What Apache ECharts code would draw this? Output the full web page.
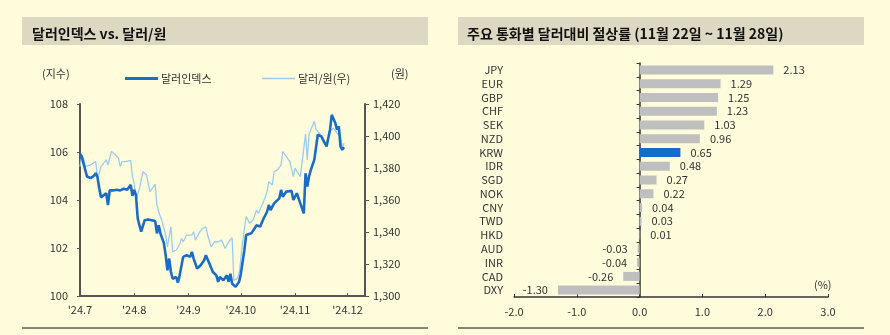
<!DOCTYPE html>
<html><head><meta charset="utf-8">
<script src="https://cdn.jsdelivr.net/npm/echarts@6/dist/echarts.min.js"></script>
<style>html,body{margin:0;padding:0;background:#FFFCDB;}#c{width:890px;height:335px;}</style>
</head><body><div id="c"></div>
<script>
// ---- Left chart data ----
const dxyDates = ['07-01','07-02','07-03','07-05','07-07','07-09','07-10','07-11','07-12','07-13','07-14','07-16','07-17','07-18','07-20','07-22','07-24','07-26','07-28','07-30','07-31','08-01','08-02','08-03','08-04','08-05','08-07','08-09','08-11','08-13','08-14','08-15','08-16','08-18','08-19','08-20','08-21','08-22','08-23','08-25','08-26','08-27','08-29','08-31','09-02','09-03','09-04','09-06','09-08','09-10','09-11','09-13','09-15','09-17','09-18','09-19','09-21','09-23','09-24','09-25','09-26','09-28','09-30','10-01','10-03','10-04','10-07','10-08','10-10','10-12','10-14','10-16','10-17','10-18','10-20','10-23','10-24','10-25','10-27','10-30','10-31','11-02','11-04','11-06','11-07','11-08','11-09','11-10','11-12','11-14','11-16','11-18','11-19','11-21','11-22','11-24','11-25','11-26','11-27','11-28','11-29'];
const dxyValues = [105.92,105.81,105.74,104.98,104.91,105.01,105.12,104.95,104.49,104.11,104.14,104.28,103.79,104.40,104.40,104.43,104.40,104.47,104.43,104.63,104.17,104.42,104.21,103.23,102.95,102.68,103.16,103.19,103.16,103.12,102.61,102.95,102.61,102.19,101.70,101.07,101.56,101.00,100.72,100.79,100.56,100.86,101.63,101.70,101.63,101.84,101.56,101.14,101.28,101.49,101.70,101.35,101.00,100.86,100.59,100.79,100.66,100.86,100.59,100.93,100.52,100.38,100.59,100.93,101.91,102.54,102.61,102.54,102.95,102.89,103.23,103.51,103.79,103.58,103.86,104.07,104.42,104.14,104.35,104.38,104.00,104.28,103.86,103.44,105.11,104.56,104.98,105.25,105.67,106.72,106.65,106.37,106.23,106.93,107.55,107.21,106.93,107.07,106.23,106.09,106.20];
const krwDates = ['07-01','07-02','07-03','07-04','07-07','07-10','07-11','07-12','07-13','07-16','07-17','07-19','07-21','07-23','07-24','07-25','07-27','07-30','07-31','08-01','08-02','08-04','08-06','08-07','08-08','08-10','08-12','08-13','08-14','08-15','08-17','08-19','08-20','08-22','08-23','08-25','08-27','08-28','08-29','08-31','09-03','09-04','09-05','09-07','09-09','09-11','09-12','09-14','09-16','09-18','09-20','09-22','09-24','09-26','09-27','09-29','09-30','10-01','10-02','10-04','10-06','10-08','10-10','10-11','10-14','10-16','10-17','10-19','10-20','10-22','10-24','10-25','10-27','10-29','10-31','11-01','11-04','11-05','11-07','11-08','11-09','11-10','11-12','11-13','11-15','11-17','11-19','11-21','11-23','11-25','11-27','11-28','11-29'];
const krwValues = [1380.9,1387.6,1386.1,1380.9,1382.0,1384.0,1373.6,1376.7,1380.9,1385.1,1382.0,1390.3,1388.6,1386.1,1380.9,1384.0,1384.0,1384.7,1374.6,1370.5,1360.0,1367.3,1377.8,1376.7,1375.7,1365.2,1368.4,1369.8,1356.9,1352.7,1346.4,1338.1,1330.7,1343.3,1327.6,1328.6,1332.2,1336.0,1333.9,1338.1,1338.1,1340.1,1334.9,1339.1,1342.2,1343.3,1338.1,1330.7,1333.9,1333.9,1334.9,1329.7,1333.9,1336.4,1309.8,1310.9,1314.0,1323.4,1333.9,1349.6,1345.4,1347.5,1353.7,1351.6,1359.0,1365.2,1371.5,1369.4,1377.8,1378.8,1382.0,1390.3,1387.2,1384.0,1374.6,1379.9,1374.6,1375.7,1401.2,1385.1,1400.8,1403.9,1409.1,1403.9,1401.8,1397.6,1393.5,1402.9,1405.0,1401.8,1399.7,1392.4,1395.5];
const leftAxisTicks = [100, 102, 104, 106, 108];
const rightAxisTicks = [1300, 1320, 1340, 1360, 1380, 1400, 1420];

// ---- Right chart data ----
const currencies = ['JPY','EUR','GBP','CHF','SEK','NZD','KRW','IDR','SGD','NOK','CNY','TWD','HKD','AUD','INR','CAD','DXY'];
const changes = [2.13,1.29,1.25,1.23,1.03,0.96,0.65,0.48,0.27,0.22,0.04,0.03,0.01,-0.03,-0.04,-0.26,-1.30];
const pctTicks = [-2, -1, 0, 1, 2, 3];

// calendar-day category axis from Jul 1 to Dec 11, 2024
const days = [];
{
  const d = new Date(Date.UTC(2024, 6, 1));
  const end = new Date(Date.UTC(2024, 11, 11));
  while (d <= end) {
    const m = String(d.getUTCMonth() + 1).padStart(2, '0');
    const dd = String(d.getUTCDate()).padStart(2, '0');
    days.push(m + '-' + dd);
    d.setUTCDate(d.getUTCDate() + 1);
  }
}
function toSeries(dates, vals) {
  const map = {};
  dates.forEach((k, i) => map[k] = vals[i]);
  return days.map(k => (k in map ? map[k] : null));
}
const isMonthStart = (i, v) => v.slice(3) === '01';

const FONT = '"Noto Sans CJK KR", "Noto Sans", sans-serif';
const TXT = '#333';
const AX = '#555';

const chart = echarts.init(document.getElementById('c'));
chart.setOption({
  backgroundColor: '#FFFCDB',
  textStyle: { fontFamily: FONT },
  animation: false,
  graphic: [
    { type: 'rect', shape: { x: 22, y: 17, width: 406, height: 28 }, style: { fill: '#DDD8C2' }, z: -1 },
    { type: 'rect', shape: { x: 458, y: 17, width: 406, height: 28 }, style: { fill: '#DDD8C2' }, z: -1 },
    { type: 'line', shape: { x1: 22, y1: 328, x2: 428, y2: 328 }, style: { stroke: '#111', lineWidth: 1 } },
    { type: 'line', shape: { x1: 458, y1: 328, x2: 864, y2: 328 }, style: { stroke: '#111', lineWidth: 1 } },
    { type: 'text', left: 42, top: 68, style: { text: '(지수)', fill: TXT, font: '11px ' + FONT } },
    { type: 'text', left: 391, top: 68, style: { text: '(원)', fill: TXT, font: '11px ' + FONT } },
    { type: 'text', left: 814, top: 279, style: { text: '(%)', fill: TXT, font: '11px ' + FONT } }
  ],
  title: [
    { text: '달러인덱스 vs. 달러/원', left: 27, top: 22, textStyle: { fontSize: 14, fontWeight: 'bold', color: '#111', fontFamily: FONT } },
    { text: '주요 통화별 달러대비 절상률 (11월 22일 ~ 11월 28일)', left: 462, top: 22, textStyle: { fontSize: 14, fontWeight: 'bold', color: '#111', fontFamily: FONT } }
  ],
  legend: [
    { left: 120, top: 68, itemWidth: 33, itemHeight: 3, icon: 'rect', itemGap: 4, data: [{ name: '달러인덱스', itemStyle: { color: '#1A6CC6' } }], textStyle: { fontSize: 11, color: TXT, padding: [0, 0, 0, -2] } },
    { left: 257, top: 68, itemWidth: 33, itemHeight: 1.5, icon: 'rect', itemGap: 4, data: [{ name: '달러/원(우)', itemStyle: { color: '#9CCBF2' } }], textStyle: { fontSize: 11, color: TXT, padding: [0, 0, 0, -2] } }
  ],
  grid: [
    { left: 80, right: 525, top: 104, bottom: 39 },
    { left: 514, right: 62, top: 63, bottom: 38 }
  ],
  xAxis: [
    {
      type: 'category', gridIndex: 0, data: days, boundaryGap: false,
      axisLine: { lineStyle: { color: AX, width: 2 } },
      axisTick: { inside: true, length: 3, interval: isMonthStart, lineStyle: { color: AX } },
      axisLabel: { interval: isMonthStart, margin: 8, fontSize: 11, color: TXT, formatter: v => "'24." + parseInt(v.slice(0, 2), 10) },
      splitLine: { show: false }
    },
    {
      type: 'value', gridIndex: 1, min: pctTicks[0], max: pctTicks[pctTicks.length - 1], interval: 1,
      axisLine: { show: true, lineStyle: { color: '#333', width: 1.5 } },
      axisTick: { show: true, inside: true, length: 3, lineStyle: { color: '#333' } },
      axisLabel: { margin: 9, fontSize: 11, color: TXT, formatter: v => v.toFixed(1) },
      splitLine: { show: false }
    }
  ],
  yAxis: [
    {
      type: 'value', gridIndex: 0, min: leftAxisTicks[0], max: leftAxisTicks[leftAxisTicks.length - 1], interval: 2,
      axisLine: { show: true, lineStyle: { color: AX, width: 2 } },
      axisTick: { show: true, length: 3, lineStyle: { color: AX } },
      axisLabel: { margin: 12, fontSize: 11, color: TXT },
      splitLine: { show: false }
    },
    {
      type: 'value', gridIndex: 0, position: 'right', min: rightAxisTicks[0], max: rightAxisTicks[rightAxisTicks.length - 1], interval: 20,
      axisLine: { show: true, lineStyle: { color: AX, width: 2 } },
      axisTick: { show: true, length: 4, lineStyle: { color: AX } },
      axisLabel: { margin: 8, fontSize: 11, color: TXT, formatter: v => v.toLocaleString('en-US') },
      splitLine: { show: false }
    },
    {
      type: 'category', gridIndex: 1, data: currencies, inverse: true,
      axisLine: { show: true, onZero: true, lineStyle: { color: '#333', width: 1.5 } },
      axisTick: { show: true, length: 3, lineStyle: { color: '#333' } },
      axisLabel: { margin: 11, interval: 0, fontSize: 11, color: TXT }
    }
  ],
  series: [
    {
      name: '달러/원(우)', type: 'line', xAxisIndex: 0, yAxisIndex: 1, data: toSeries(krwDates, krwValues),
      connectNulls: true, showSymbol: false, symbol: 'none',
      lineStyle: { color: '#9CCBF2', width: 1.3 }, itemStyle: { color: '#9CCBF2' }, z: 2
    },
    {
      name: '달러인덱스', type: 'line', xAxisIndex: 0, yAxisIndex: 0, data: toSeries(dxyDates, dxyValues),
      connectNulls: true, showSymbol: false, symbol: 'none',
      lineStyle: { color: '#1A6CC6', width: 2.6 }, itemStyle: { color: '#1A6CC6' }, z: 3
    },
    {
      type: 'bar', xAxisIndex: 1, yAxisIndex: 2, barWidth: 9,
      data: changes.map((v, i) => ({
        value: v,
        itemStyle: { color: currencies[i] === 'KRW' ? '#0F6FC6' : '#BFBFBF' },
        label: { position: v >= 0 ? 'right' : 'left' }
      })),
      label: { show: true, distance: 10, fontSize: 11, color: TXT, formatter: p => p.value.toFixed(2) }
    }
  ]
});
</script></body></html>
